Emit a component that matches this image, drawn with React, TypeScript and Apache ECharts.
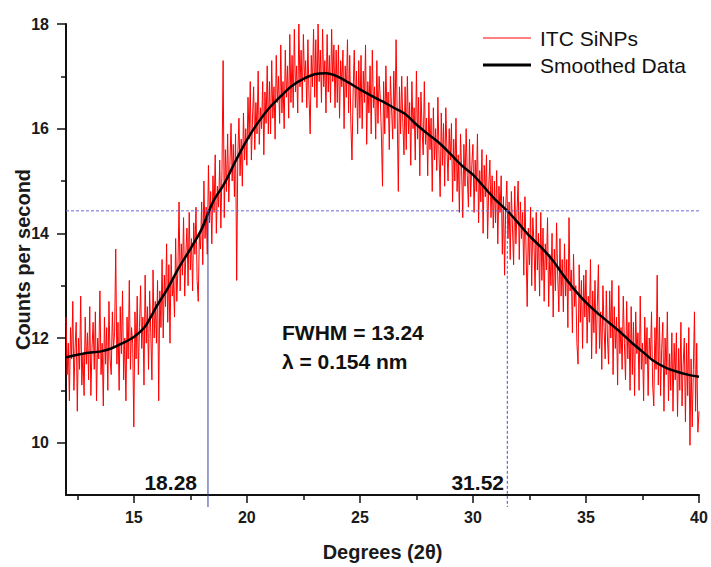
import React, { useEffect, useRef } from "react";
import * as echarts from "echarts";

// Raw diffractogram, sampled every 0.05 degree from 12 to 40
const RAW_X_START = 12;
const RAW_X_STEP = 0.05;
const rawCounts = [
  12.4, 11.3, 11.9, 10.8, 12.2, 11.6, 12.7, 11.0, 11.8, 12.3,
  10.6, 12.0, 11.4, 12.8, 11.1, 11.7, 10.9, 12.4, 11.5, 12.1,
  11.2, 12.6, 10.9, 11.8, 12.3, 11.4, 12.5, 10.8, 12.0, 11.6,
  12.9, 11.3, 11.9, 10.7, 12.4, 11.5, 12.2, 11.0, 12.7, 11.6,
  11.3, 12.5, 11.8, 12.1, 13.7, 11.5, 12.3, 11.0, 12.6, 11.7,
  12.9, 11.2, 12.0, 10.8, 12.4, 11.6, 13.1, 11.4, 12.2, 11.9,
  10.3, 12.5, 11.6, 12.8, 11.3, 12.2, 13.0, 11.8, 12.4, 11.1,
  13.2, 11.9, 12.6, 11.4, 12.9, 12.1, 11.2, 13.3, 12.0, 12.7,
  11.9, 13.1, 10.8, 12.9, 12.2, 13.5, 12.0, 13.2, 12.6, 13.8,
  12.3, 13.4, 11.9, 13.6, 12.8, 13.1, 12.4, 13.9, 12.7, 13.3,
  14.6, 12.9, 13.8, 13.2, 14.3, 12.8, 13.6, 14.1, 13.0, 14.4,
  13.3, 13.9, 12.9, 14.2, 13.6, 14.5, 13.1, 12.7, 14.0, 13.7,
  14.6, 13.4, 15.0, 13.9, 14.5, 13.6, 15.3, 14.2, 14.8, 13.8,
  15.1, 14.4, 15.5, 14.0, 14.9, 14.5, 15.4, 14.1, 15.2, 17.3,
  14.3, 15.6, 14.8, 15.9, 14.6, 15.3, 16.1, 15.0, 15.7, 14.7,
  15.9, 13.1, 15.5, 16.2, 15.1, 15.8, 14.9, 16.3, 15.4, 16.0,
  15.3, 16.6, 15.8, 16.9, 15.4, 16.2, 16.8, 15.6, 16.5, 15.9,
  17.1, 15.7, 16.4, 16.0, 16.9, 15.5, 16.7, 16.1, 17.2, 15.9,
  16.9, 15.9, 17.3, 16.2, 16.8, 15.8, 17.4, 16.5, 17.0, 16.1,
  17.6, 16.3, 16.9, 16.0, 17.5, 16.6, 17.2, 16.2, 17.8, 16.5,
  17.4, 16.4, 17.9, 16.7, 17.2, 16.3, 18.0, 16.8, 17.5, 16.5,
  17.8, 16.9, 17.3, 16.4, 17.7, 16.6, 15.9, 17.4, 16.8, 17.9,
  16.6, 17.7, 16.4, 18.0, 16.9, 17.5, 16.5, 17.9, 16.8, 17.3,
  16.3, 17.8, 16.7, 17.4, 16.5, 17.9, 16.9, 17.6, 16.4, 17.5,
  16.5, 17.6, 16.2, 17.3, 16.8, 17.5, 16.0, 17.2, 16.6, 17.7,
  16.3, 17.4, 16.1, 15.4, 16.7, 17.5, 16.4, 17.1, 15.9, 17.3,
  16.2, 17.4, 16.0, 17.1, 16.5, 17.6, 15.7, 16.9, 16.3, 17.2,
  15.9, 17.5, 16.4, 16.8, 15.8, 17.3, 16.1, 17.0, 16.6, 15.9,
  14.9, 16.9, 15.9, 17.2, 16.2, 16.7, 15.6, 17.0, 16.4, 15.8,
  17.1, 16.0, 17.7, 16.3, 14.8, 16.8, 15.9, 17.0, 16.1, 15.5,
  16.8, 15.6, 17.0, 15.9, 16.5, 15.3, 16.9, 16.0, 16.4, 15.4,
  17.1, 15.8, 16.6, 15.1, 16.7, 16.0, 15.5, 16.9, 15.7, 16.2,
  15.1, 16.5, 15.6, 16.2, 14.8, 16.4, 15.4, 16.0, 15.2, 16.6,
  15.5, 14.7, 16.3, 15.3, 16.1, 14.9, 16.4, 15.6, 15.0, 16.0,
  15.4, 16.1, 14.6, 15.8, 15.0, 16.2, 14.8, 15.5, 14.4, 15.9,
  15.2, 14.3, 15.7, 14.9, 16.0, 15.1, 14.5, 15.8, 14.7, 15.3,
  15.7, 14.4, 15.4, 14.8, 15.9, 14.2, 15.2, 14.6, 15.6, 14.0,
  15.3, 14.7, 15.5, 13.9, 14.9, 15.4, 14.3, 15.1, 14.1, 15.0,
  14.2, 15.2, 13.8, 14.9, 14.4, 15.1, 13.6, 14.7, 13.2, 14.5,
  15.0, 13.9, 14.6, 13.5, 14.8, 14.1, 13.4, 14.9, 13.8, 14.4,
  15.0, 13.5, 14.6, 13.9, 14.4, 13.2, 14.7, 13.7, 12.6, 14.1,
  13.4, 14.5, 13.0, 14.3, 13.8, 12.9, 14.4, 13.3, 14.0, 12.8,
  14.4, 13.1, 14.1, 12.7, 13.8, 13.3, 14.3, 12.6, 13.6, 13.0,
  14.0, 12.4, 13.7, 12.9, 14.2, 13.2, 12.5, 13.9, 12.8, 13.5,
  12.5, 13.8, 12.8, 13.5, 12.2, 14.3, 12.9, 13.3, 12.1, 13.6,
  12.6, 13.0, 11.9, 11.5, 13.4, 12.3, 13.1, 11.8, 13.2, 12.4,
  13.3, 11.9, 12.8, 12.3, 13.5, 11.6, 12.9, 12.1, 13.1, 11.7,
  12.6, 13.4, 11.8, 12.5, 11.4, 13.0, 12.2, 11.6, 12.9, 12.0,
  11.5, 12.9, 12.0, 13.1, 11.3, 12.6, 11.8, 12.4, 11.1, 13.0,
  11.7, 12.2, 11.4, 12.8, 11.9, 11.2, 12.7, 11.6, 12.3, 11.0,
  12.6, 11.3, 12.3, 10.9, 12.5, 11.7, 12.1, 11.0, 12.8, 11.4,
  11.9, 10.8, 12.4, 11.5, 12.2, 10.9, 12.0, 11.6, 12.5, 11.1,
  10.7, 12.2, 11.4, 13.2, 11.1, 12.4, 10.9, 11.8, 12.3, 10.6,
  12.0, 11.3, 12.5, 10.8, 11.7, 11.0, 12.1, 10.6, 11.9, 11.2,
  12.1, 10.5, 11.8, 11.0, 12.3, 10.7, 11.5, 12.0, 10.4, 11.9,
  10.9, 12.2, 9.95, 11.6, 10.3, 11.4, 12.5, 10.6, 11.9, 10.2,
  10.6,
];

// Smoothed curve, sampled every 0.5 degree from 12 to 40
const SMOOTH_X_START = 12;
const SMOOTH_X_STEP = 0.5;
const smoothCounts = [
  11.63, 11.68, 11.72, 11.74, 11.8, 11.9, 12.02, 12.22, 12.6, 12.95,
  13.35, 13.7, 14.08, 14.6, 14.95, 15.38, 15.78, 16.12, 16.4, 16.62,
  16.82, 16.95, 17.04, 17.06, 17.0, 16.88, 16.75, 16.63, 16.52, 16.4,
  16.28, 16.08, 15.9, 15.73, 15.52, 15.3, 15.12, 14.88, 14.64, 14.44,
  14.2, 13.95, 13.74, 13.5, 13.2, 12.92, 12.68, 12.48, 12.3, 12.12,
  11.92, 11.74, 11.56, 11.44, 11.36, 11.3, 11.26,
];

const halfMaxLevel = 14.43;
const fwhmLeft = 18.28;
const fwhmRight = 31.52;
const xMin = 12;
const xMax = 40;
const yMin = 9;
const yMax = 18;
const xMajorTicks = [15, 20, 25, 30, 35, 40];
const xMinorTicks = [12.5, 17.5, 22.5, 27.5, 32.5, 37.5];
const yMajorTicks = [10, 12, 14, 16, 18];
const yMinorTicks = [11, 13, 15, 17];

const FONT = "'Liberation Sans', Arial, sans-serif";

export default function App() {
  const ref = useRef<HTMLDivElement>(null);

  useEffect(() => {
    if (!ref.current) return;
    const chart = echarts.init(ref.current, undefined, { renderer: "svg" });

    const rawData = rawCounts.map((v, i) => [
      +(RAW_X_START + i * RAW_X_STEP).toFixed(2),
      v,
    ]);
    const smoothData = smoothCounts.map((v, i) => [
      SMOOTH_X_START + i * SMOOTH_X_STEP,
      v,
    ]);
    const dropBottom = yMin - 0.23;

    const axisLabelStyle = {
      fontFamily: FONT,
      fontWeight: "bold" as const,
      fontSize: 16,
      color: "#1a1a1a",
    };

    chart.setOption({
      animation: false,
      backgroundColor: "#ffffff",
      grid: {
        left: 66,
        right: 12,
        top: 24,
        bottom: 72,
        containLabel: false,
        outerBoundsMode: "none",
      },
      xAxis: [
        {
          type: "value",
          min: xMin,
          max: xMax,
          name: "Degrees (2θ)",
          nameLocation: "middle",
          nameGap: 47,
          nameMoveOverlap: false,
          nameTextStyle: {
            fontFamily: FONT,
            fontWeight: "bold",
            fontSize: 20,
            color: "#1a1a1a",
          },
          axisLine: { show: true, onZero: false, lineStyle: { color: "#111", width: 2 } },
          axisTick: {
            show: true,
            inside: false,
            length: 8,
            customValues: xMajorTicks,
            lineStyle: { color: "#111", width: 1.5 },
          },
          axisLabel: { ...axisLabelStyle, margin: 14, customValues: xMajorTicks },
          splitLine: { show: false },
        },
        {
          type: "value",
          min: xMin,
          max: xMax,
          position: "bottom",
          axisLine: { show: false, onZero: false },
          axisTick: {
            show: true,
            inside: false,
            length: 5,
            customValues: xMinorTicks,
            lineStyle: { color: "#111", width: 1.5 },
          },
          axisLabel: { show: false },
          splitLine: { show: false },
        },
      ],
      yAxis: [
        {
          type: "value",
          min: yMin,
          max: yMax,
          name: "Counts per second",
          nameLocation: "middle",
          nameGap: 33,
          nameRotate: 90,
          nameMoveOverlap: false,
          nameTextStyle: {
            fontFamily: FONT,
            fontWeight: "bold",
            fontSize: 20,
            color: "#1a1a1a",
          },
          axisLine: { show: true, onZero: false, lineStyle: { color: "#111", width: 2 } },
          axisTick: {
            show: true,
            inside: false,
            length: 9,
            customValues: yMajorTicks,
            lineStyle: { color: "#111", width: 1.5 },
          },
          axisLabel: { ...axisLabelStyle, margin: 17, customValues: yMajorTicks },
          splitLine: { show: false },
        },
        {
          type: "value",
          min: yMin,
          max: yMax,
          position: "left",
          axisLine: { show: false, onZero: false },
          axisTick: {
            show: true,
            inside: false,
            length: 5,
            customValues: yMinorTicks,
            lineStyle: { color: "#111", width: 1.5 },
          },
          axisLabel: { show: false },
          splitLine: { show: false },
        },
      ],
      series: [
        {
          name: "ITC SiNPs",
          type: "line",
          data: rawData,
          showSymbol: false,
          symbol: "none",
          lineStyle: { color: "#ff0000", width: 1 },
          z: 2,
          silent: true,
        },
        {
          name: "Smoothed Data",
          type: "line",
          data: smoothData,
          smooth: 0.3,
          showSymbol: false,
          symbol: "none",
          lineStyle: { color: "#000000", width: 2.5 },
          z: 3,
          silent: true,
        },
        {
          name: "half max",
          type: "line",
          data: [
            [xMin, halfMaxLevel],
            [xMax, halfMaxLevel],
          ],
          symbol: "none",
          lineStyle: { color: "#6a6ad6", width: 1, type: [3, 2] },
          z: 4,
          silent: true,
        },
        {
          name: "left drop",
          type: "line",
          data: [
            [fwhmLeft, halfMaxLevel],
            [fwhmLeft, dropBottom],
          ],
          clip: false,
          symbol: "none",
          lineStyle: { color: "#3d3da8", width: 1 },
          z: 4,
          silent: true,
        },
        {
          name: "right drop",
          type: "line",
          data: [
            [fwhmRight, halfMaxLevel],
            [fwhmRight, dropBottom],
          ],
          clip: false,
          symbol: "none",
          lineStyle: { color: "#5050b8", width: 1, type: [3, 2] },
          z: 4,
          silent: true,
        },
      ],
      graphic: [
        {
          type: "line",
          shape: { x1: 483, y1: 38, x2: 531, y2: 38 },
          style: { stroke: "#ff0000", lineWidth: 1 },
        },
        {
          type: "text",
          x: 540,
          y: 38,
          style: {
            text: "ITC SiNPs",
            font: `21px ${FONT}`,
            fill: "#111",
            verticalAlign: "middle",
            align: "left",
          },
        },
        {
          type: "line",
          shape: { x1: 483, y1: 65, x2: 531, y2: 65 },
          style: { stroke: "#000000", lineWidth: 3 },
        },
        {
          type: "text",
          x: 540,
          y: 65,
          style: {
            text: "Smoothed Data",
            font: `21px ${FONT}`,
            fill: "#111",
            verticalAlign: "middle",
            align: "left",
          },
        },
        {
          type: "text",
          x: 282,
          y: 332,
          style: {
            text: "FWHM = 13.24",
            font: `bold 21px ${FONT}`,
            fill: "#111",
            verticalAlign: "middle",
            align: "left",
          },
        },
        {
          type: "text",
          x: 282,
          y: 361,
          style: {
            text: "λ = 0.154 nm",
            font: `bold 21px ${FONT}`,
            fill: "#111",
            verticalAlign: "middle",
            align: "left",
          },
        },
        {
          type: "text",
          x: 197,
          y: 482,
          style: {
            text: "18.28",
            font: `bold 21px ${FONT}`,
            fill: "#111",
            verticalAlign: "middle",
            align: "right",
          },
        },
        {
          type: "text",
          x: 504,
          y: 482,
          style: {
            text: "31.52",
            font: `bold 21px ${FONT}`,
            fill: "#111",
            verticalAlign: "middle",
            align: "right",
          },
        },
      ],
    });

    return () => chart.dispose();
  }, []);

  return (
    <div
      ref={ref}
      style={{ position: "absolute", left: 0, top: 0, width: 711, height: 567 }}
    />
  );
}
